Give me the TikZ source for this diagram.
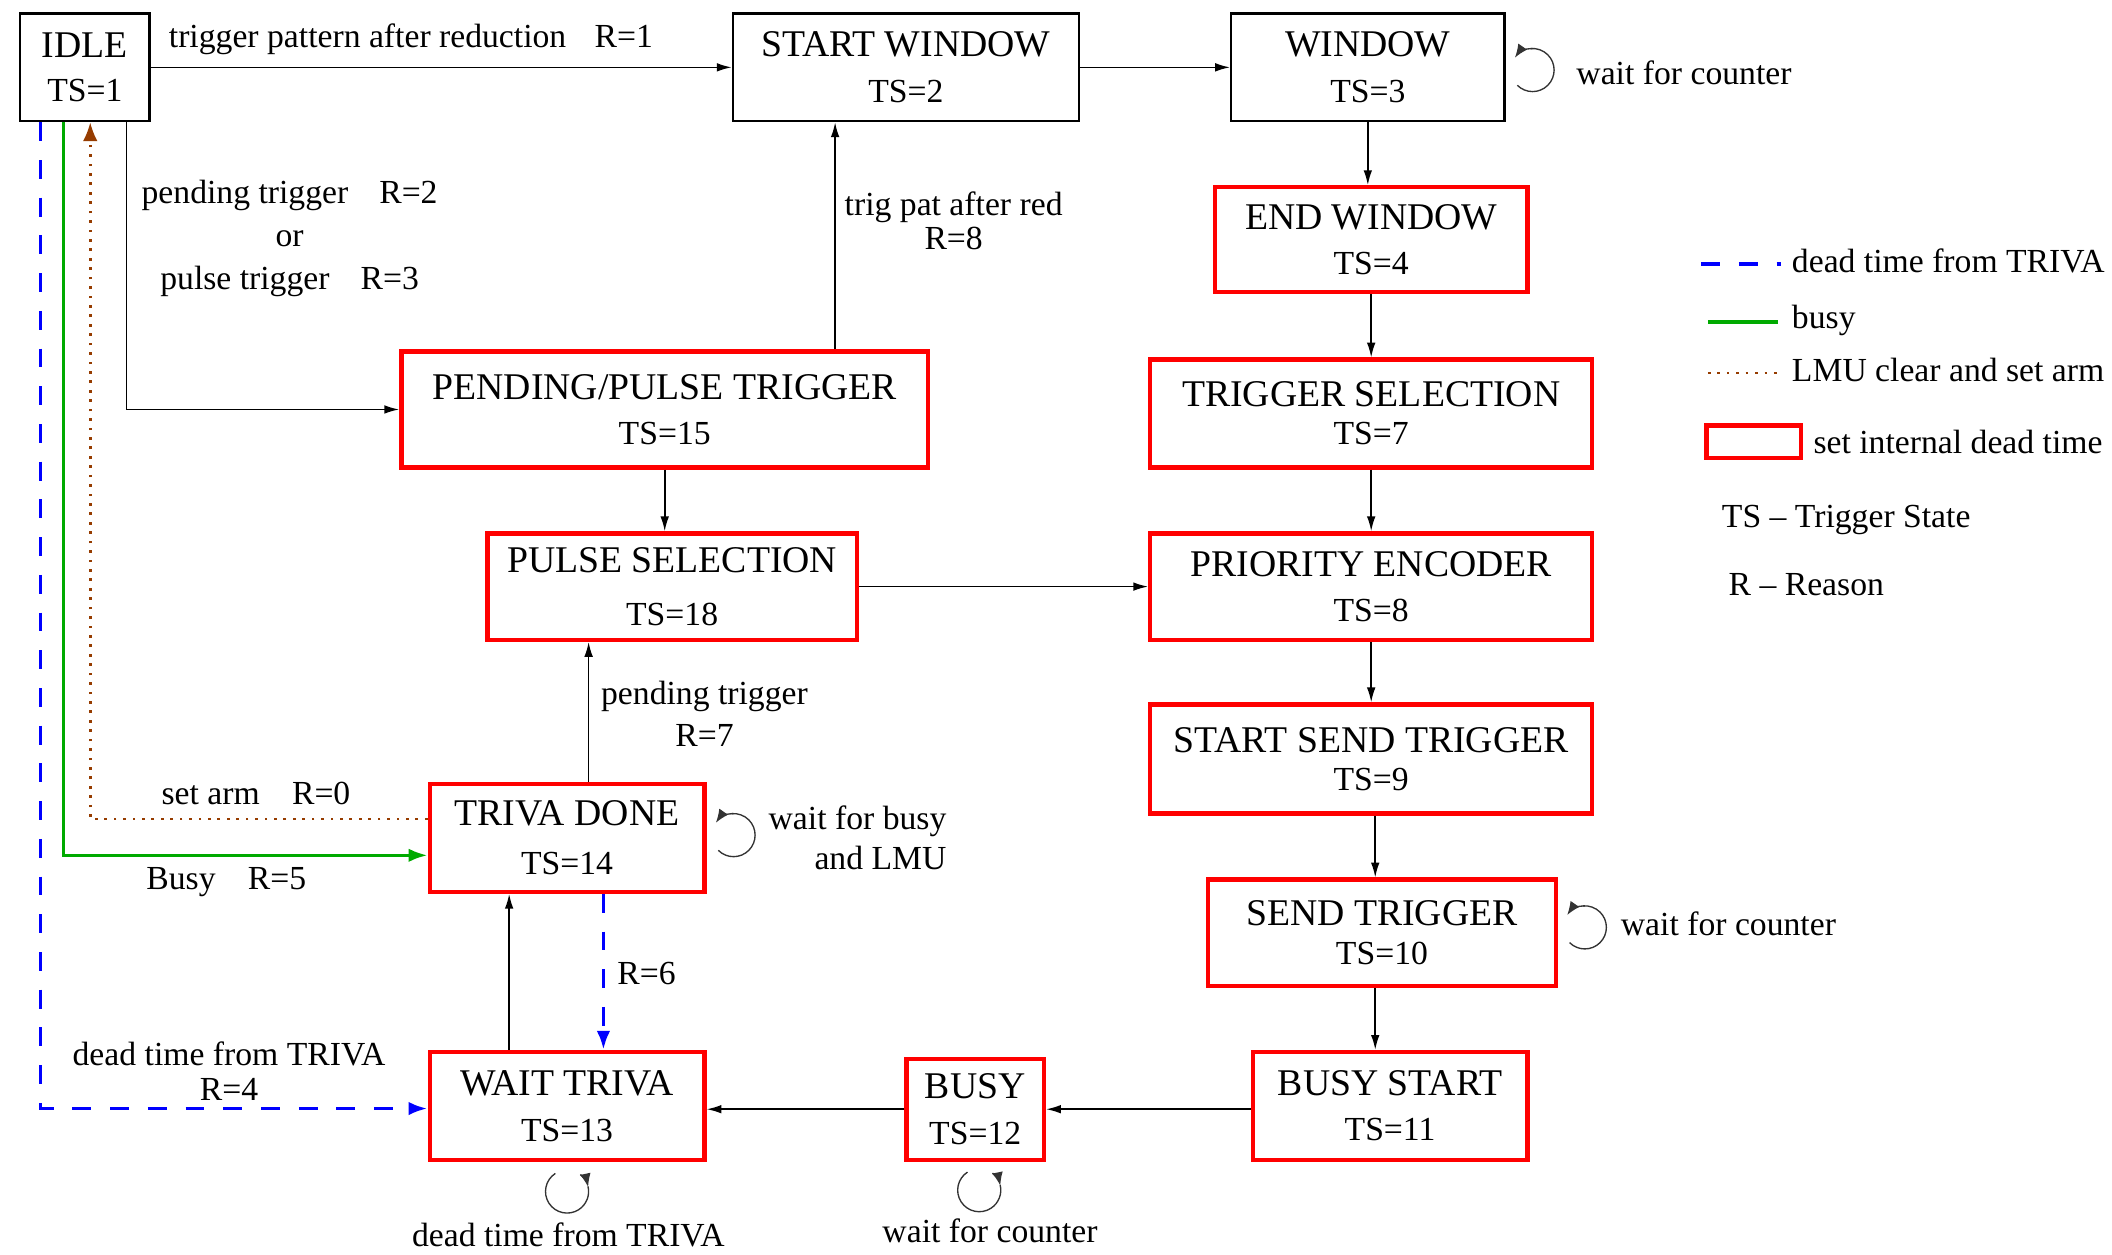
\documentclass[tikz,border=0pt]{standalone}
\usepackage{fontspec}
\setmainfont{Liberation Serif}
\usetikzlibrary{arrows.meta,calc}
\definecolor{xred}{RGB}{255,0,0}
\definecolor{xblue}{RGB}{0,0,255}
\definecolor{xgreen}{RGB}{0,170,0}
\definecolor{xbrown}{RGB}{150,60,0}
\newcommand\myboxfont{\fontsize{14}{14}\selectfont}
\newcommand\mytsfont{\fontsize{12.5}{14}\selectfont}
\newcommand\mylabfont{\fontsize{12.5}{12.5}\selectfont}
\newcommand\rloop[1]{%
  \draw[loopst] (#1) ++(-135:8pt) arc[start angle=-135,end angle=95,radius=8pt];
  \draw[loopst,-{Latex[length=5pt,width=4pt]}] (#1) ++(90:8pt) arc[start angle=90,end angle=145,radius=8pt];}
\newcommand\bloop[1]{%
  \draw[loopst] (#1) ++(123:8pt) arc[start angle=123,end angle=374,radius=8pt];
  \draw[loopst,-{Latex[length=5pt,width=4pt]}] (#1) ++(52:8pt) arc[start angle=52,end angle=12,radius=8pt];}
\begin{document}
\begin{tikzpicture}[x=0.5pt,y=-0.5pt,
  bbox/.style={draw=black, line width=0.8pt, align=center, font=\myboxfont, inner sep=0pt},
  rbox/.style={draw=xred, line width=1.6pt, align=center, font=\myboxfont, inner sep=0pt},
  lab/.style={font=\mylabfont, inner sep=0pt},
  arr/.style={draw=black, line width=0.6pt, -{Latex[length=5.5pt,width=3.2pt]}},
  bl/.style={draw=xblue, line width=1.35pt, dash pattern=on 7pt off 7pt, -{Latex[length=7pt,width=5pt]}},
  gr/.style={draw=xgreen, line width=1.2pt, -{Latex[length=7pt,width=5pt]}},
  br/.style={draw=xbrown, line width=1pt, dash pattern=on 1pt off 2.5pt, -{Latex[length=7pt,width=5.5pt]}},
  loopst/.style={draw=black!80, line width=0.5pt}]
\useasboundingbox (0,0) rectangle (1568,931.7);

% states
\node[bbox, minimum width=48pt, minimum height=40pt] (idle) at (63,50) {IDLE\\[2.5pt]{\mytsfont TS=1}};
\node[bbox, minimum width=128.5pt, minimum height=40pt] (sw) at (672.5,50) {START WINDOW\\[3pt]{\mytsfont TS=2}};
\node[bbox, minimum width=101.5pt, minimum height=40pt] (win) at (1015.5,50) {WINDOW\\[3pt]{\mytsfont TS=3}};
\node[rbox, minimum width=116pt, minimum height=39pt] (ew) at (1018,178) {END WINDOW\\[3pt]{\mytsfont TS=4}};
\node[rbox, minimum width=164pt, minimum height=40pt] (tsel) at (1018,307) {TRIGGER SELECTION\\[0pt]{\mytsfont TS=7}};
\node[rbox, minimum width=164pt, minimum height=39.5pt] (prio) at (1018,435.5) {PRIORITY ENCODER\\[2.5pt]{\mytsfont TS=8}};
\node[rbox, minimum width=164pt, minimum height=40.5pt] (sst) at (1018,563.5) {START SEND TRIGGER\\[0pt]{\mytsfont TS=9}};
\node[rbox, minimum width=129pt, minimum height=39.5pt] (send) at (1026,692.5) {SEND TRIGGER\\[0.5pt]{\mytsfont TS=10}};
\node[rbox, minimum width=102pt, minimum height=40pt] (bst) at (1032,821) {BUSY START\\[2.5pt]{\mytsfont TS=11}};
\node[rbox, minimum width=51pt, minimum height=37.5pt] (busy) at (724,823.5) {BUSY\\[3pt]{\mytsfont TS=12}};
\node[rbox, minimum width=102pt, minimum height=40pt] (wt) at (421,821) {WAIT TRIVA\\[3pt]{\mytsfont TS=13}};
\node[rbox, minimum width=102pt, minimum height=40pt] (td) at (421,622) {TRIVA DONE\\[4pt]{\mytsfont TS=14}};
\node[rbox, minimum width=137pt, minimum height=39.5pt] (ps) at (499,435.5) {PULSE SELECTION\\[5.5pt]{\mytsfont TS=18}};
\node[rbox, minimum width=195.5pt, minimum height=43pt] (pp) at (493.5,304) {PENDING/PULSE TRIGGER\\[2.5pt]{\mytsfont TS=15}};

% transitions
\draw[arr] (idle.east) -- (idle.east -| sw.west);
\draw[arr] (sw.east) -- (win.west);
\draw[arr] (win.south) -- (win.south |- ew.north);
\draw[arr] (ew.south) -- (ew.south |- tsel.north);
\draw[arr] (tsel) -- (prio);
\draw[arr] (prio) -- (sst);
\draw[arr] ([xshift=1.5pt]sst.south) -- ([xshift=1.5pt]sst.south |- send.north);
\draw[arr] ([xshift=-2.5pt]send.south) -- ([xshift=-2.5pt]send.south |- bst.north);
\draw[arr] (bst.west |- busy.west) -- (busy.east);
\draw[arr] (busy.west) -- (busy.west -| wt.east);
\draw[arr] ([xshift=-21.5pt]wt.north) -- ([xshift=-21.5pt]td.south);
\draw[bl] ([xshift=13.5pt]td.south) -- ([xshift=13.5pt]wt.north);
\draw[arr] ([xshift=8pt]td.north) -- ([xshift=8pt]td.north |- ps.south);
\draw[arr] (pp.south) -- (pp.south |- ps.north);
\draw[arr] (ps.east) -- (ps.east -| prio.west);
\draw[arr] ([xshift=63.25pt]pp.north) -- ([xshift=63.25pt]pp.north |- sw.south);
\draw[arr] ([xshift=15.5pt]idle.south) |- (pp.west);
\draw[bl] ([xshift=-16.5pt]idle.south) |- ([yshift=-1pt]wt.west);
\draw[gr] ([xshift=-8pt]idle.south) |- ([yshift=-6.5pt]td.west);
\draw[br] ([yshift=7pt]td.west) -| ([xshift=2pt]idle.south);

% self loops
\coordinate (winL) at ([xshift=10pt,yshift=-1pt]win.east);
\coordinate (tdL) at ([xshift=10pt,yshift=1pt]td.east);
\coordinate (sendL) at ([xshift=10pt,yshift=2pt]send.east);
\coordinate (wtL) at ([yshift=-11pt]wt.south);
\coordinate (busyL) at ([xshift=1.5pt,yshift=-10.5pt]busy.south);
\rloop{winL}
\rloop{tdL}
\rloop{sendL}
\bloop{wtL}
\bloop{busyL}

% labels
\node[lab, anchor=west] (l1) at (125,29) {trigger pattern after reduction\hspace{10.5pt}R=1};
\node[lab, align=center] (l2) at (215,177) {pending trigger\hspace{11.5pt}R=2\\[3.5pt]or\\[3.5pt]pulse trigger\hspace{11.5pt}R=3};
\node[lab, align=center] (l3) at (708,164) {trig pat after red\\[0pt]R=8};
\node[lab, align=center] (l4) at (523,530) {pending trigger\\[3pt]R=7};
\node[lab] (l5) at (190,589) {set arm\hspace{12pt}R=0};
\node[lab] (l6) at (168,655) {Busy\hspace{12pt}R=5};
\node[lab] (l7) at (480,723) {R=6};
\node[lab, align=center] (l8) at (170,795) {dead time from TRIVA\\[0.5pt]R=4\hspace{13pt}};
\node[lab] (l9) at (422,917) {dead time from TRIVA};
\node[lab] (l10) at (735,914) {wait for counter};
\node[lab, anchor=west] (l11) at (1170,54) {wait for counter};
\node[lab, anchor=west] (l12) at (1203,686) {wait for counter};
\node[lab, align=right, anchor=east] (l13) at (703,622) {wait for busy\\[2.5pt]and LMU};

% legend
\coordinate (lgA1) at (1263,196); \coordinate (lgA2) at (1322,196);
\coordinate (lgB1) at (1268,239); \coordinate (lgB2) at (1320,239);
\coordinate (lgC1) at (1268,277); \coordinate (lgC2) at (1320,277);
\draw[xblue, line width=1.35pt, dash pattern=on 7pt off 7pt] (lgA1) -- (lgA2);
\draw[xgreen, line width=1.2pt] (lgB1) -- (lgB2);
\draw[xbrown, line width=1pt, dash pattern=on 1pt off 2.5pt] (lgC1) -- (lgC2);
\node[draw=xred, line width=1.6pt, minimum width=35pt, minimum height=12pt, inner sep=0pt] (lgD) at (1302,328) {};
\node[lab, anchor=west] (lt1) at (1330,194) {dead time from TRIVA};
\node[lab, anchor=west] (lt2) at (1330,238) {busy};
\node[lab, anchor=west] (lt3) at (1330,275) {LMU clear and set arm};
\node[lab, anchor=west] (lt4) at (1346,328) {set internal dead time};
\node[lab, anchor=west] (lt5) at (1278,386) {TS -- Trigger State};
\node[lab, anchor=west] (lt6) at (1283,434) {R -- Reason};
\end{tikzpicture}
\end{document}
